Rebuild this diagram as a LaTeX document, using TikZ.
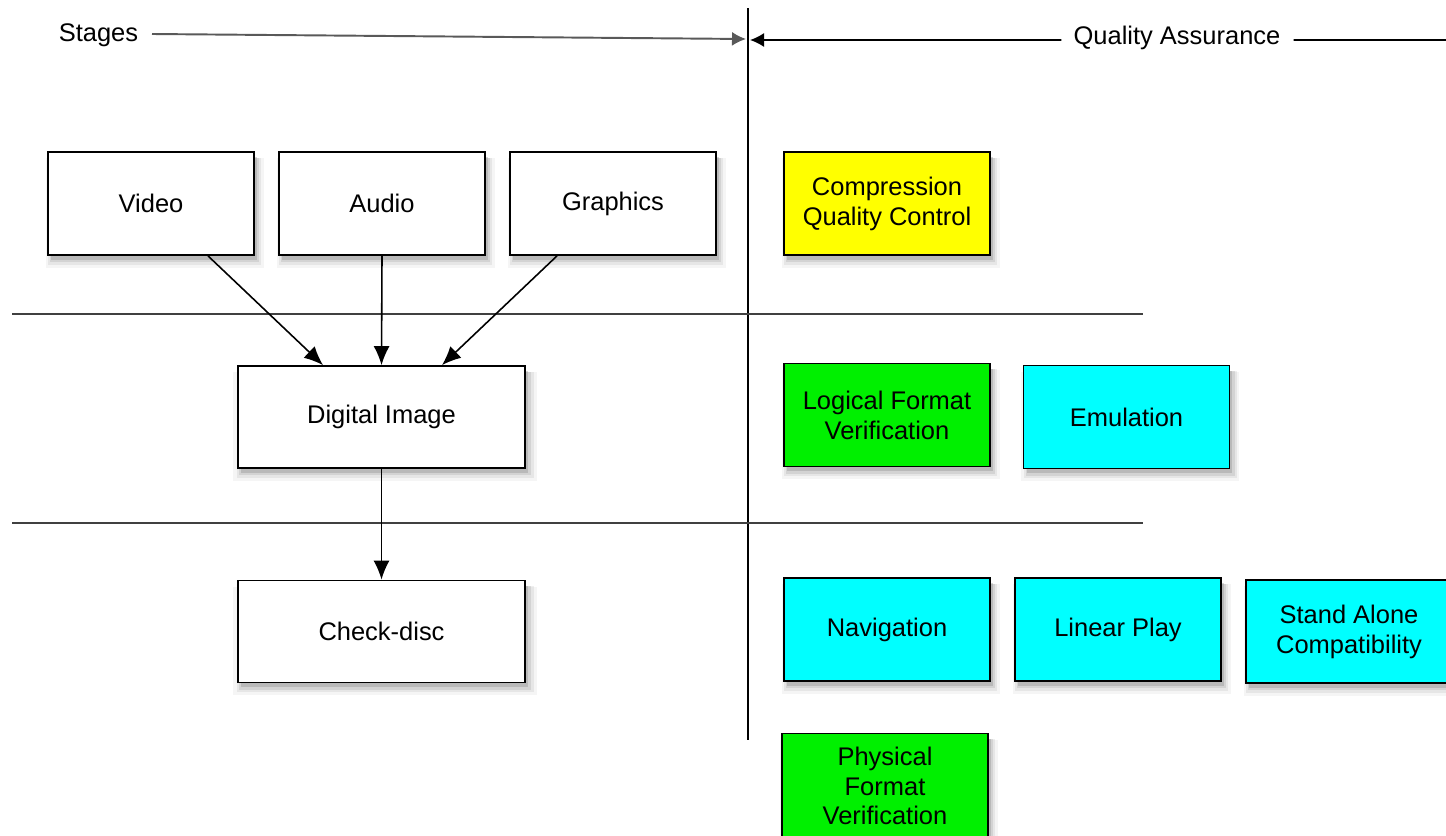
\documentclass[tikz,border=0pt]{standalone}
\usepackage{fontspec}
\setmainfont{Liberation Sans}
\usetikzlibrary{shadows,arrows.meta,calc}
\definecolor{qyellow}{RGB}{255,255,0}
\definecolor{qgreen}{RGB}{0,240,0}
\definecolor{qcyan}{RGB}{0,255,255}
\begin{document}
\begin{tikzpicture}[x=0.02cm,y=-0.02cm,
  every node/.style={font=\fontsize{14.5}{17}\selectfont},
  softshadow/.style={
    drop shadow={opacity=0.08, shadow xshift=0.07cm, shadow yshift=-0.18cm, shadow scale=1.06},
    drop shadow={opacity=0.12, shadow xshift=0.07cm, shadow yshift=-0.15cm, shadow scale=1.035},
    drop shadow={opacity=0.18, shadow xshift=0.07cm, shadow yshift=-0.13cm, shadow scale=1.015},
    drop shadow={opacity=0.3, shadow xshift=0.06cm, shadow yshift=-0.1cm}},
  boxbase/.style={draw=black, line width=1pt, align=center, minimum height=2.06cm, softshadow},
  box/.style={boxbase, fill=white, minimum width=4.12cm},
  widebox/.style={boxbase, fill=white, minimum width=5.74cm, minimum height=2.04cm},
  ybox/.style={boxbase, fill=qyellow, minimum width=4.12cm},
  gbox/.style={boxbase, fill=qgreen, minimum width=4.12cm},
  cbox/.style={boxbase, fill=qcyan, minimum width=4.12cm},
  arr/.style={-{Latex[length=0.38cm,width=0.32cm]}, line width=0.9pt},
  harr/.style={-{Latex[length=0.28cm,width=0.28cm]}, line width=0.9pt},
  sepline/.style={line width=0.9pt, black!75},
  lbl/.style={inner sep=0pt}
]
\useasboundingbox (0,0) rectangle (1446,835);
\fill[white] (0,0) rectangle (1446,835);

% header
\node[lbl] (stages) at (98.5,35) {Stages};
\node[lbl] (qa) at (1177,38) {Quality Assurance};
\coordinate (vtop) at (748,8);
\coordinate (vbot) at (748,740);
\coordinate (sl) at (152,34);
\coordinate (sr) at (746,39);
\coordinate (ql) at (750,40);
\coordinate (qr) at (1446,40);
\draw[line width=0.9pt] (vtop) -- (vbot);
\draw[harr, black!65, line width=1.1pt] (sl) -- (sr);
\draw[harr] ([xshift=-0.24cm,yshift=-0.04cm]qa.west) -- (ql);
\draw[line width=0.9pt] ([xshift=0.26cm,yshift=-0.04cm]qa.east) -- (qr);

% separators
\coordinate (h1l) at (12,314);
\coordinate (h1r) at (1143,314);
\coordinate (h2l) at (12,523);
\coordinate (h2r) at (1143,523);
\draw[sepline] (h1l) -- (h1r);
\draw[sepline] (h2l) -- (h2r);

% stage boxes
\node[box] (video) at (151,203.5) {Video};
\node[box] (audio) at (382,203.5) {Audio};
\node[box] (graphics) at (613,203.5) {Graphics};
\node[widebox] (dig) at (381.5,417) {Digital Image};
\node[widebox] (chk) at (381.5,631.5) {Check-disc};

% QA boxes
\node[ybox] (cqc) at (887,203.5) {Compression\\Quality Control};
\node[gbox] (lfv) at (887,415) {Logical Format\\Verification};
\node[cbox] (emu) at (1126.5,417) {Emulation};
\node[cbox] (nav) at (887,629.5) {Navigation};
\node[cbox] (lin) at (1118,629.5) {Linear Play};
\node[cbox] (sac) at (1349,631.5) {Stand Alone\\Compatibility};
\node[gbox, minimum height=2.1cm] (pfv) at (885,786) {Physical\\Format\\Verification};

% arrows
\draw[arr] ([xshift=1.14cm]video.south) -- ([xshift=-1.17cm]dig.north);
\draw[arr] (audio.south) -- (dig.north);
\draw[arr] ([xshift=-1.12cm]graphics.south) -- ([xshift=1.21cm]dig.north);
\draw[arr] (dig.south) -- (chk.north);
\end{tikzpicture}
\end{document}
